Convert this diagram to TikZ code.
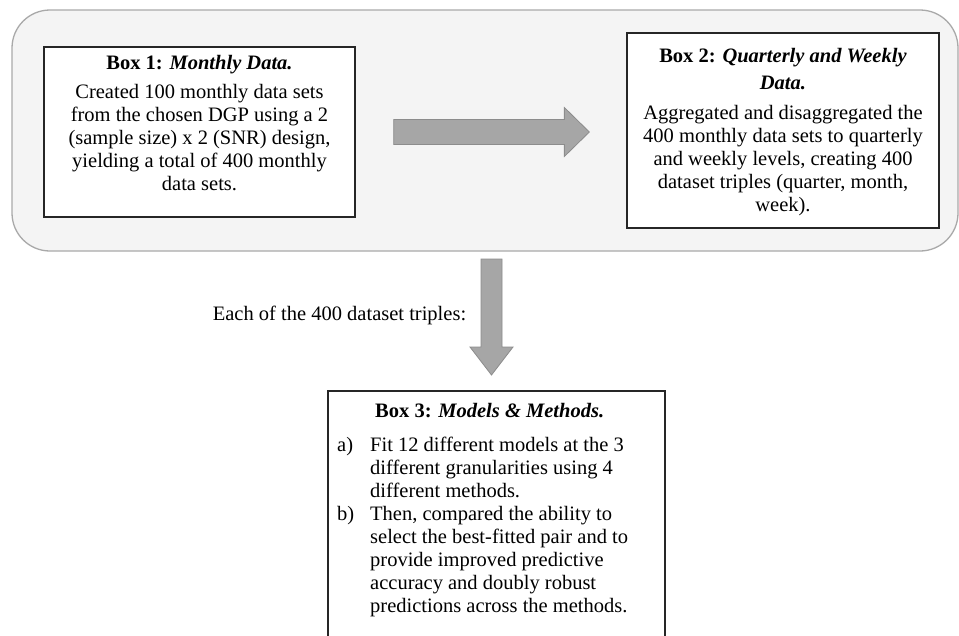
\documentclass[tikz,border=0pt]{standalone}
\usepackage{fontspec}
\setmainfont{Liberation Serif}
\usetikzlibrary{calc}
\definecolor{groupfill}{HTML}{F4F4F4}
\definecolor{groupdraw}{HTML}{A9A9A9}
\definecolor{arrowfill}{HTML}{A6A6A6}
\definecolor{arrowdraw}{HTML}{8C8C8C}
\begin{document}
\begin{tikzpicture}[x=1pt,y=-1pt,
  frame/.style={draw=black!85, line width=1.3pt, fill=white, inner sep=0pt, rectangle},
  txt/.style={align=center, inner sep=0pt, font=\fontsize{20.5}{23}\selectfont},
  blockarrow/.style={fill=arrowfill, draw=arrowdraw, line width=0.8pt, line join=miter}]
\useasboundingbox (0,0) rectangle (959,635);
\fill[white] (0,0) rectangle (959,635);
% group container
\node[draw=groupdraw, fill=groupfill, line width=1.3pt, rounded corners=38pt,
      minimum width=946pt, minimum height=241pt, inner sep=0pt] (group) at (485,130.5) {};
% boxes
\node[frame, minimum width=311pt, minimum height=170pt] (box1) at (199.5,132) {};
\node[frame, minimum width=312pt, minimum height=195pt] (box2) at (783,130.5) {};
\node[frame, minimum width=337pt, minimum height=280pt] (box3) at (496.5,531) {};
% texts
\node[txt] (box1text) at (199.5,123) {\textbf{Box 1:} \textbf{\textit{Monthly Data.}}\\[6pt]
Created 100 monthly data sets\\
from the chosen DGP using a 2\\
(sample size) x 2 (SNR) design,\\
yielding a total of 400 monthly\\
data sets.};
\node[txt] (box2text) at (783,132) {\textbf{Box 2:} \textbf{\textit{Quarterly and Weekly}}\\[4pt]
\textbf{\textit{Data.}}\\[7pt]
Aggregated and disaggregated the\\
400 monthly data sets to quarterly\\
and weekly levels, creating 400\\
dataset triples (quarter, month,\\
week).};
\node[txt, anchor=north west] (box3text) at (337,401) {\begin{tabular}{@{}p{33pt}@{}l@{}}
\multicolumn{2}{@{}l@{}}{\hspace{38pt}\textbf{Box 3:} \textbf{\textit{Models \& Methods.}}}\\[11pt]
a) & Fit 12 different models at the 3\\
   & different granularities using 4\\
   & different methods.\\[0.5pt]
b) & Then, compared the ability to\\
   & select the best-fitted pair and to\\
   & provide improved predictive\\
   & accuracy and doubly robust\\
   & predictions across the methods.
\end{tabular}};
\node[txt] (lbl) at (339.5,315) {Each of the 400 dataset triples:};
% block arrows
\coordinate (rstart) at ($(box1.east)+(38,0)$);
\coordinate (rend) at ($(box2.west)+(-37,1.5)$);
\draw[blockarrow] ($(rstart)+(0,-12.5)$) -- ($(rend)+(-25,-12.5)$) -- ($(rend)+(-25,-24.5)$)
  -- (rend) -- ($(rend)+(-25,24.5)$) -- ($(rend)+(-25,12.5)$) -- ($(rstart)+(0,12.5)$) -- cycle;
\coordinate (dstart) at (491.5,259);
\coordinate (dend) at (491.5,375);
\draw[blockarrow] ($(dstart)+(-10.5,0)$) -- ($(dend)+(-10.5,-28)$) -- ($(dend)+(-21.5,-28)$)
  -- (dend) -- ($(dend)+(21.5,-28)$) -- ($(dend)+(10.5,-28)$) -- ($(dstart)+(10.5,0)$) -- cycle;
\end{tikzpicture}
\end{document}
